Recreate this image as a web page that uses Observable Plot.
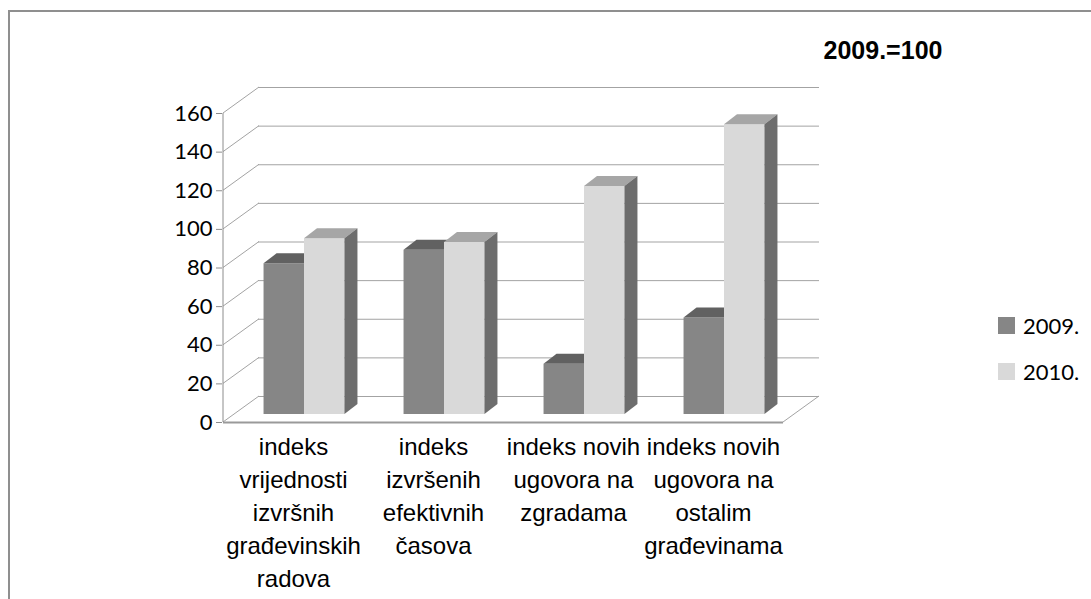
<!DOCTYPE html>
<html><head><meta charset="utf-8">
<script src="https://cdn.jsdelivr.net/npm/d3@7"></script>
<script src="https://cdn.jsdelivr.net/npm/@observablehq/plot@0.6"></script>
<style>
body{margin:0;background:#fff;}
#wrap{position:relative;width:1091px;height:599px;overflow:hidden;background:#fff;}
#border{position:absolute;left:8px;top:10px;width:1200px;height:700px;border-left:2px solid #8f8f8f;border-top:2px solid #8f8f8f;}
#chart{position:absolute;left:0;top:0;}
#base{position:absolute;left:783px;top:36px;width:200px;text-align:center;font:bold 25px "Liberation Sans",Arial,sans-serif;color:#000;}
.item{position:absolute;left:998px;display:flex;align-items:center;font:22px Lato,"Open Sans",sans-serif;color:#000;height:26px;}
.sw{width:17px;height:17px;margin-right:8px;}
</style></head>
<body><div id="wrap"><div id="border"></div><div id="chart"></div><div id="base"></div></div>
<script>
// ---- data ----
const categories = ["vrijednosti", "casova", "zgrade", "ostale"];
const categoryLabels = [
  "indeks\nvrijednosti\nizvršnih\ngrađevinskih\nradova",
  "indeks\nizvršenih\nefektivnih\nčasova",
  "indeks novih\nugovora na\nzgradama",
  "indeks novih\nugovora na\nostalim\ngrađevinama"
];
const seriesNames = ["2009.", "2010."];
const values2009 = [78, 85, 26, 50];
const values2010 = [91, 89, 118, 150];
const yTicks = [0, 20, 40, 60, 80, 100, 120, 140, 160];
const baseNote = "2009.=100";

// ---- styles ----
const frontColors = ["#868686", "#d9d9d9"];
const topColors = ["#616161", "#a6a6a6"];
const sideColors = ["#5a5a5a", "#6d6d6d"];
const gridColor = "#a3a3a3";
const DEPTH = {dx: 36, dy: -26};      // whole chart depth
const BAR_OFF = {dx: 11, dy: -8};     // bar front plane offset
const BAR_DEPTH = {dx: 13, dy: -10};  // bar thickness

const rows = [];
categories.forEach((c, i) => {
  rows.push({category: c, series: seriesNames[0], s: 0, value: values2009[i]});
  rows.push({category: c, series: seriesNames[1], s: 1, value: values2010[i]});
});

function bw(scale) { return typeof scale.bandwidth === "function" ? scale.bandwidth() : scale.bandwidth; }
function poly(g, pts, fill, stroke) {
  g.append("path").attr("d", "M" + pts.map(p => p.join(",")).join("L") + "Z")
    .attr("fill", fill).attr("stroke", stroke || "none");
}

// walls / floor drawn from the scales
function walls(index, scales) {
  const g = d3.create("svg:g");
  const b = bw(scales.x);
  const xl = scales.x(categories[0]);
  const xr = scales.x(categories[categories.length - 1]) + b;
  const y0 = scales.y(0);
  yTicks.forEach(v => {
    const y = scales.y(v);
    g.append("line").attr("x1", xl).attr("y1", y).attr("x2", xl + DEPTH.dx).attr("y2", y + DEPTH.dy)
      .attr("stroke", gridColor).attr("stroke-width", 1);
  });
  g.append("line").attr("x1", xr).attr("y1", y0).attr("x2", xr + DEPTH.dx).attr("y2", y0 + DEPTH.dy)
    .attr("stroke", gridColor).attr("stroke-width", 1);
  g.append("line").attr("x1", xl).attr("y1", y0 + 0.5).attr("x2", xr).attr("y2", y0 + 0.5)
    .attr("stroke", "#9a9a9a").attr("stroke-width", 2);
  g.append("line").attr("x1", xl).attr("y1", scales.y(yTicks[yTicks.length - 1])).attr("x2", xl).attr("y2", y0)
    .attr("stroke", "#8c8c8c").attr("stroke-width", 1);
  return g.node();
}

function bars3d(index, scales) {
  const g = d3.create("svg:g");
  const b = bw(scales.x);
  const w = b * 0.289;
  const padL = (b - 2 * w) / 2;
  rows.forEach(r => {
    const x0 = scales.x(r.category) + padL + r.s * w + BAR_OFF.dx;
    const x1 = x0 + w;
    const yb = scales.y(0) + BAR_OFF.dy;
    const yt = scales.y(r.value) + BAR_OFF.dy;
    poly(g, [[x0, yt], [x1, yt], [x1, yb], [x0, yb]], frontColors[r.s]);
    poly(g, [[x0, yt], [x1, yt], [x1 + BAR_DEPTH.dx, yt + BAR_DEPTH.dy], [x0 + BAR_DEPTH.dx, yt + BAR_DEPTH.dy]], topColors[r.s]);
    poly(g, [[x1, yt], [x1 + BAR_DEPTH.dx, yt + BAR_DEPTH.dy], [x1 + BAR_DEPTH.dx, yb + BAR_DEPTH.dy], [x1, yb]], sideColors[r.s]);
  });
  return g.node();
}

const chart = Plot.plot({
  width: 1091,
  height: 599,
  marginLeft: 222,
  marginRight: 308,
  marginTop: 113,
  marginBottom: 177,
  style: {fontFamily: "Lato, 'Open Sans', sans-serif", background: "transparent"},
  x: {type: "band", domain: categories, padding: 0, axis: null},
  y: {domain: [0, 160]},
  marks: [
    Plot.ruleY(yTicks, {dx: DEPTH.dx, dy: DEPTH.dy, stroke: gridColor, strokeWidth: 1}),
    walls,
    Plot.axisY(yTicks, {tickSize: 6, tickPadding: 4, fontSize: 22, label: null, stroke: "#8c8c8c", fill: "#000"}),
    bars3d,
    Plot.text(categories, {
      x: d => d,
      frameAnchor: "bottom",
      dy: 9,
      lineAnchor: "top",
      text: (d, i) => categoryLabels[i],
      fontFamily: "'Liberation Sans', Arial, sans-serif",
      fontSize: 24,
      lineHeight: 1.38,
      fill: "#000"
    })
  ]
});
document.getElementById("chart").appendChild(chart);
document.getElementById("base").textContent = baseNote;

const wrap = document.getElementById("wrap");
seriesNames.forEach((s, i) => {
  const it = document.createElement("div");
  it.className = "item";
  it.style.top = (312 + i * 46) + "px";
  const sw = document.createElement("div");
  sw.className = "sw";
  sw.style.background = frontColors[i];
  it.appendChild(sw);
  it.appendChild(document.createTextNode(s));
  wrap.appendChild(it);
});
</script>
</body></html>
